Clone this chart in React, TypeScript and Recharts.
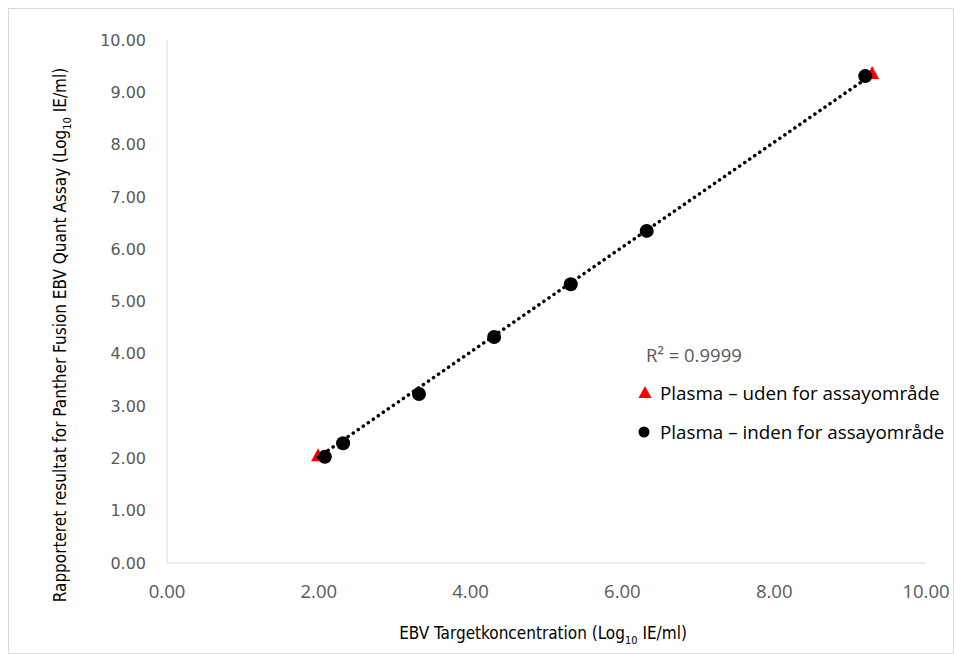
import { ScatterChart, Scatter, XAxis, YAxis, Legend } from "recharts"

// Plasma – inden for assayområde (black circles)
const inRangeX = [2.08, 2.32, 3.32, 4.31, 5.32, 6.32, 9.2]
const inRangeY = [2.03, 2.29, 3.23, 4.32, 5.33, 6.35, 9.31]
// Plasma – uden for assayområde (red triangles)
const outRangeX = [1.99, 9.29]
const outRangeY = [2.06, 9.37]
// linear trendline endpoints
const trendX = [1.99, 9.29]
const trendY = [2.02, 9.34]
const rSquared = "R² = 0.9999"

const xTicks = [0, 2, 4, 6, 8, 10]
const yTicks = [0, 1, 2, 3, 4, 5, 6, 7, 8, 9, 10]

const inRange = inRangeX.map((x, i) => ({ x, y: inRangeY[i] }))
const outRange = outRangeX.map((x, i) => ({ x, y: outRangeY[i] }))
const trend = trendX.map((x, i) => ({ x, y: trendY[i] }))

const narrow = "'Liberation Sans Narrow', 'DejaVu Sans Condensed', Roboto, sans-serif"
const wide = "'Open Sans', 'Noto Sans', sans-serif"

const Dot = (p: any) => <circle cx={p.cx} cy={p.cy} r={7} fill="#000" />
const Tri = (p: any) => (
  <polygon
    points={`${p.cx},${p.cy - 7} ${p.cx + 7},${p.cy + 6} ${p.cx - 7},${p.cy + 6}`}
    fill="#ff0000"
  />
)

const XTitle = () => (
  <text x={534} y={630} textAnchor="middle" fontFamily={narrow} fontSize={17} fill="#000">
    EBV Targetkoncentration (Log
    <tspan fontSize={11} dy={5}>10</tspan>
    <tspan dy={-5}> IE/ml)</tspan>
  </text>
)

const YTitle = () => (
  <text
    x={0}
    y={0}
    transform="translate(57, 326) rotate(-90)"
    textAnchor="middle"
    fontFamily={narrow}
    fontSize={17}
    fill="#000"
  >
    Rapporteret resultat for Panther Fusion EBV Quant Assay (Log
    <tspan fontSize={11} dy={5}>10</tspan>
    <tspan dy={-5}> IE/ml)</tspan>
  </text>
)

const LegendBox = () => (
  <div style={{ position: "relative", width: 318, height: 0, fontFamily: wide }}>
    <div style={{ position: "absolute", left: 10, top: -1, fontSize: 18.5, color: "#595959", lineHeight: "26px", whiteSpace: "nowrap" }}>
      {rSquared}
    </div>
    <svg style={{ position: "absolute", left: 0, top: 38 }} width={18} height={24}>
      <polygon points="9,5 15.5,17 2.5,17" fill="#ff0000" />
    </svg>
    <div style={{ position: "absolute", left: 24, top: 36, fontSize: 18.8, color: "#000", lineHeight: "28px", whiteSpace: "nowrap" }}>
      Plasma – uden for assayområde
    </div>
    <svg style={{ position: "absolute", left: 0, top: 77 }} width={18} height={24}>
      <circle cx={8} cy={12} r={5.5} fill="#000" />
    </svg>
    <div style={{ position: "absolute", left: 24, top: 75, fontSize: 18.8, color: "#000", lineHeight: "28px", whiteSpace: "nowrap" }}>
      Plasma – inden for assayområde
    </div>
  </div>
)

export default function App() {
  return (
    <div
      style={{
        position: "fixed",
        left: 8,
        top: 8,
        width: 944,
        height: 644,
        border: "1px solid #d9d9d9",
        background: "#fff",
      }}
    >
      <ScatterChart width={944} height={644} margin={{ top: 31, right: 27, bottom: 0, left: 0 }}>
        <XAxis
          type="number"
          dataKey="x"
          domain={[0, 10]}
          ticks={xTicks}
          tickFormatter={(v: number) => v.toFixed(2)}
          height={90}
          tickSize={0}
          tickMargin={22}
          axisLine={{ stroke: "#d9d9d9" }}
          tick={{ fill: "#595959", fontSize: 18.5, fontFamily: wide }}
          label={{ content: XTitle }}
        />
        <YAxis
          type="number"
          dataKey="y"
          domain={[0, 10]}
          ticks={yTicks}
          tickFormatter={(v: number) => v.toFixed(2)}
          width={158}
          tickSize={0}
          tickMargin={21}
          axisLine={{ stroke: "#d9d9d9" }}
          tick={{ fill: "#595959", fontSize: 16, fontFamily: "'DejaVu Sans', sans-serif" }}
          label={{ content: YTitle }}
        />
        <Legend
          content={LegendBox}
          wrapperStyle={{ position: "absolute", left: 627, top: 334, width: 318, height: 0 }}
        />
        <Scatter
          name="Plasma – uden for assayområde"
          data={outRange}
          shape={Tri}
          isAnimationActive={false}
        />
        <Scatter
          name="trend"
          data={trend}
          legendType="none"
          line={{ stroke: "#000", strokeWidth: 3.5, strokeDasharray: "0.1 6", strokeLinecap: "round" }}
          shape={() => <g />}
          isAnimationActive={false}
        />
        <Scatter
          name="Plasma – inden for assayområde"
          data={inRange}
          shape={Dot}
          isAnimationActive={false}
        />
      </ScatterChart>
    </div>
  )
}
